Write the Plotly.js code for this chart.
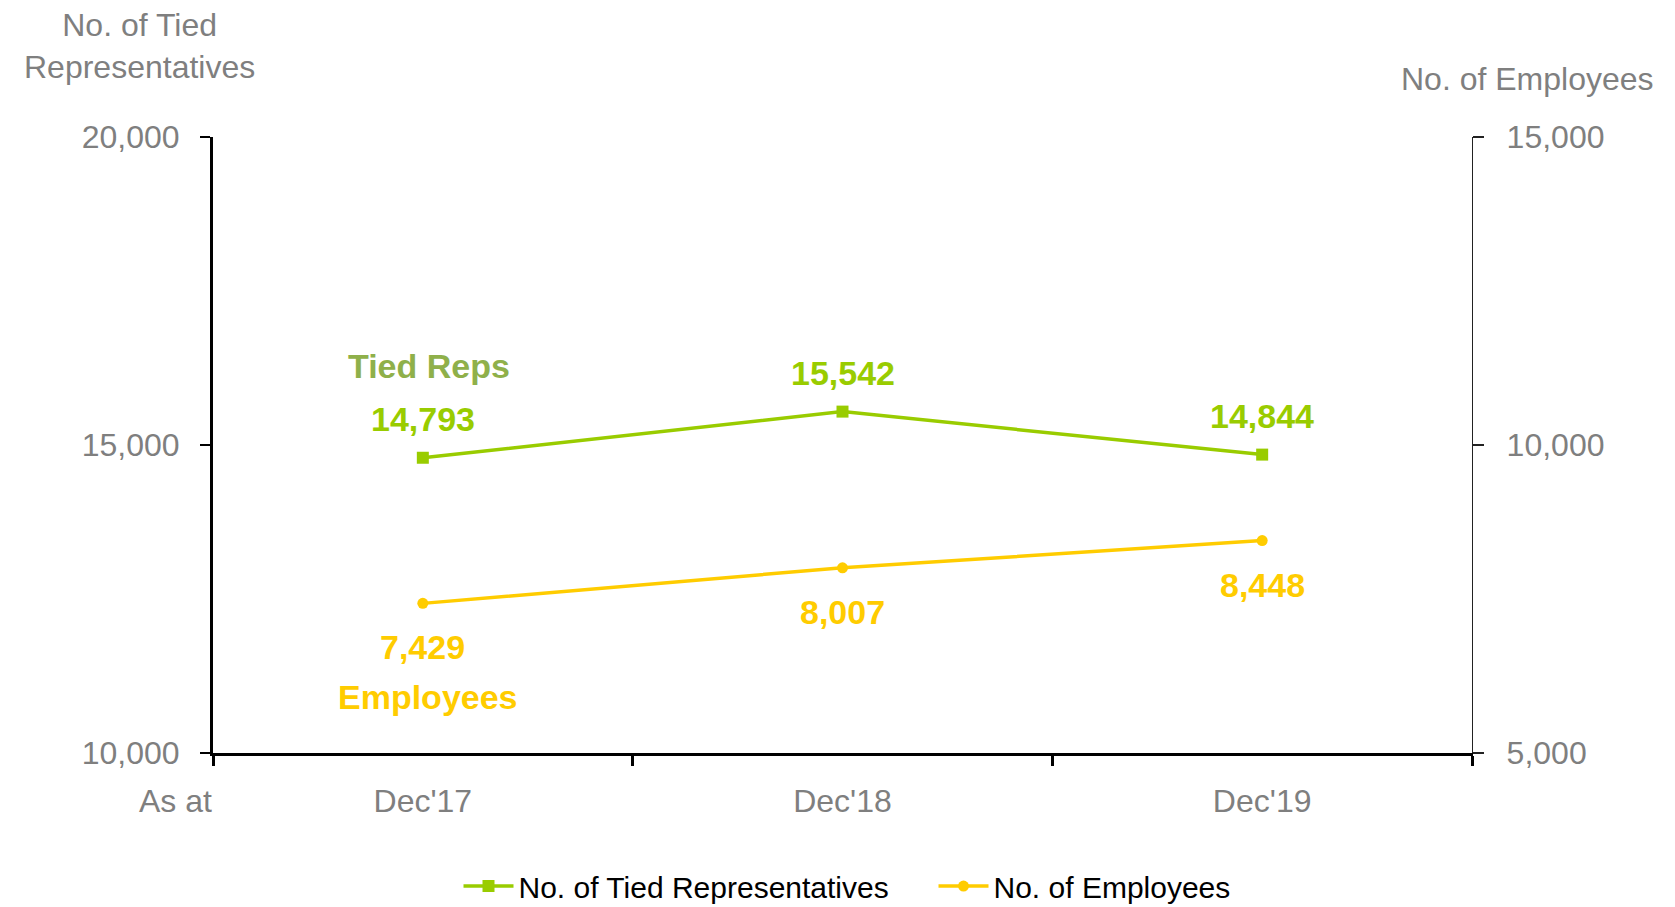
<!DOCTYPE html>
<html>
<head>
<meta charset="utf-8">
<script src="https://cdn.plot.ly/plotly-3.0.1.min.js"></script>
<style>
  html, body { margin: 0; padding: 0; background: #fff; }
  #chart { width: 1675px; height: 907px; }
</style>
</head>
<body>
<div id="chart"></div>
<script>
// values
const periods = ["Dec'17", "Dec'18", "Dec'19"];
const tiedReps = [14793, 15542, 14844];
const employees = [7429, 8007, 8448];
const leftTicks = [10000, 15000, 20000];
const rightTicks = [5000, 10000, 15000];

const FONT = 'Liberation Sans, Arial, sans-serif';
const GREY = '#7f7f7f';
const GREEN = '#99cc00';
const YELLOW = '#ffcc00';

const fmt = v => v.toLocaleString('en-US');

const traces = [
  {
    x: periods,
    y: tiedReps,
    type: 'scatter',
    mode: 'lines+markers',
    name: 'No. of Tied Representatives',
    line: { color: GREEN, width: 3.5 },
    marker: { symbol: 'square', size: 12, color: GREEN },
    yaxis: 'y'
  },
  {
    x: periods,
    y: employees,
    type: 'scatter',
    mode: 'lines+markers',
    name: 'No. of Employees',
    line: { color: YELLOW, width: 3.5 },
    marker: { symbol: 'circle', size: 11, color: YELLOW },
    yaxis: 'y2'
  }
];

// value labels, placed on the points through the axes
const annotations = [];
tiedReps.forEach((v, i) => {
  annotations.push({
    x: periods[i], y: v, xref: 'x', yref: 'y',
    text: fmt(v), showarrow: false, yshift: 39,
    font: { family: FONT, size: 34, color: GREEN, weight: 'bold' }
  });
});
employees.forEach((v, i) => {
  annotations.push({
    x: periods[i], y: v, xref: 'x', yref: 'y2',
    text: fmt(v), showarrow: false, yshift: -44,
    font: { family: FONT, size: 34, color: YELLOW, weight: 'bold' }
  });
});

// series names next to the first points
annotations.push({
  x: periods[0], y: tiedReps[0], xref: 'x', yref: 'y',
  text: 'Tied Reps', showarrow: false, yshift: 92, xshift: 6,
  font: { family: FONT, size: 34, color: '#8fb04a', weight: 'bold' }
});
annotations.push({
  x: periods[0], y: employees[0], xref: 'x', yref: 'y2',
  text: 'Employees', showarrow: false, yshift: -94, xshift: 5,
  font: { family: FONT, size: 34, color: YELLOW, weight: 'bold' }
});

// axis titles
annotations.push({
  x: -0.058, y: 1.147, xref: 'paper', yref: 'paper',
  xanchor: 'center', yanchor: 'middle',
  text: 'No. of Tied<br>Representatives', showarrow: false,
  font: { family: FONT, size: 32, color: GREY }
});
annotations.push({
  x: 1.0437, y: 1.094, xref: 'paper', yref: 'paper',
  xanchor: 'center', yanchor: 'middle',
  text: 'No. of Employees', showarrow: false,
  font: { family: FONT, size: 32, color: GREY }
});
annotations.push({
  x: -0.0294, y: -0.078, xref: 'paper', yref: 'paper',
  xanchor: 'center', yanchor: 'middle',
  text: 'As at', showarrow: false,
  font: { family: FONT, size: 32, color: GREY }
});

const layout = {
  width: 1675,
  height: 907,
  margin: { l: 213, r: 203, t: 137, b: 154, autoexpand: false },
  paper_bgcolor: '#fff',
  plot_bgcolor: '#fff',
  font: { family: FONT, size: 32, color: GREY },
  showlegend: true,
  legend: {
    orientation: 'h',
    x: 0.195, xanchor: 'left',
    y: -0.216, yanchor: 'middle',
    entrywidthmode: 'pixels',
    entrywidth: 410,
    itemwidth: 50,
    font: { family: FONT, size: 30, color: '#000' }
  },
  xaxis: {
    type: 'category',
    categoryarray: periods,
    range: [-0.5, 2.5],
    tickson: 'boundaries',
    ticks: 'outside', ticklen: 10, tickwidth: 3, tickcolor: '#000',
    showline: true, linecolor: '#000', linewidth: 3,
    showgrid: false, zeroline: false,
    ticklabelstandoff: 18,
    tickfont: { family: FONT, size: 32, color: GREY }
  },
  yaxis: {
    range: [10000, 20000],
    tickvals: leftTicks,
    tickformat: ',',
    ticks: 'outside', ticklen: 10, tickwidth: 2.5, tickcolor: '#000',
    showline: true, linecolor: '#000', linewidth: 3,
    showgrid: false, zeroline: false,
    ticklabelstandoff: 14,
    tickfont: { family: FONT, size: 32, color: GREY }
  },
  yaxis2: {
    overlaying: 'y', side: 'right', anchor: 'x',
    range: [5000, 15000],
    tickvals: rightTicks,
    tickformat: ',',
    ticks: 'outside', ticklen: 11, tickwidth: 1.2, tickcolor: '#222',
    showline: true, linecolor: '#222', linewidth: 1.2,
    showgrid: false, zeroline: false,
    ticklabelstandoff: 16,
    tickfont: { family: FONT, size: 32, color: GREY }
  },
  // inner half of the crossing ticks on the right axis
  yaxis3: {
    overlaying: 'y', side: 'right', anchor: 'x',
    range: [5000, 15000],
    tickvals: rightTicks,
    ticks: 'inside', ticklen: 13, tickwidth: 1.2, tickcolor: '#222',
    showticklabels: false, showline: false,
    showgrid: false, zeroline: false
  },
  annotations: annotations
};

Plotly.newPlot('chart', traces, layout, { displayModeBar: false, staticPlot: true });
</script>
</body>
</html>
